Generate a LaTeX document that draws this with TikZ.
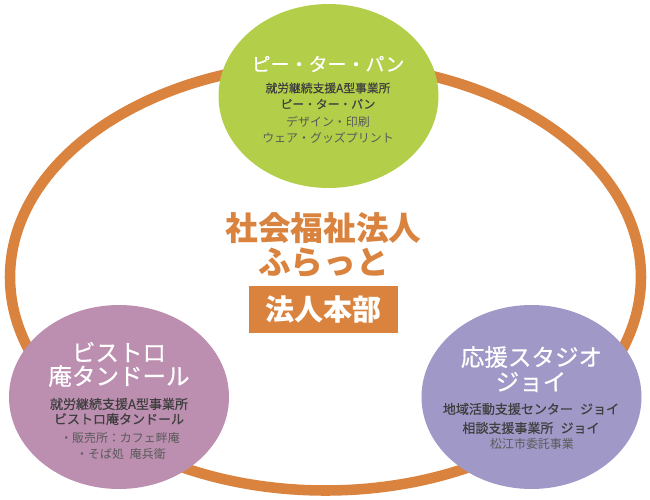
\documentclass[tikz,border=0pt]{standalone}
\usepackage{fontspec}
\setmainfont{Noto Sans CJK JP}
\newfontfamily\midfont[FakeBold=0.5]{Noto Sans CJK JP}
\usepackage{xcolor}
\definecolor{ringorange}{HTML}{D9833E}
\definecolor{pangreen}{HTML}{B3CE48}
\definecolor{bistroplum}{HTML}{BC8FB0}
\definecolor{joypurple}{HTML}{A098C7}
\definecolor{darktext}{HTML}{3F3F3F}
\definecolor{greytext}{HTML}{5A5A5A}
\tikzset{
  bigtitle/.style={text=white,font=\midfont\fontsize{13.4}{16}\selectfont},
  pantitle/.style={text=white,font=\midfont\fontsize{10.8}{13}\selectfont},
  headline/.style={text=ringorange,font=\bfseries\fontsize{18.6}{22}\selectfont},
  boldline/.style={text=darktext,font=\midfont\fontsize{7.4}{9}\selectfont},
  panbold/.style={text=darktext,font=\midfont\fontsize{6.7}{8}\selectfont},
  thinline/.style={text=greytext,font=\fontsize{6.8}{8}\selectfont},
  honbubox/.style={fill=ringorange,text=white,inner sep=0pt,minimum width=2.98cm,minimum height=0.94cm,font=\bfseries\fontsize{16.5}{19}\selectfont},
}

\begin{document}
\begin{tikzpicture}[x=0.02cm,y=-0.02cm]
\useasboundingbox (0,0) rectangle (650,500);
\draw [ringorange, line width=6pt] (325.5,277) ellipse (315.5 and 213.5);

\fill [pangreen] (328.5,96) ellipse (110 and 92);
\fill [bistroplum] (119,397) ellipse (110 and 92);
\fill [joypurple] (531.5,397) ellipse (110 and 92);

\node [pantitle] (pan) at (328,64) {ピー・ター・パン};
\node [panbold] (panjob) at (328,88) {就労継続支援A型事業所};
\node [panbold] (panname) at (328,104) {ピー・ター・パン};
\node [thinline] (pandesign) at (328,122) {デザイン・印刷};
\node [thinline] (panwear) at (328,138) {ウェア・グッズプリント};

\node [headline] (hojin) at (323.5,228) {社会福祉法人};
\node [headline] (furatto) at (323.5,263) {ふらっと};
\node [honbubox] (honbu) at (323.5,309.5) {法人本部};

\node [bigtitle] (bistro) at (119,352) {ビストロ};
\node [bigtitle] (tandoor) at (119,376) {庵タンドール};
\node [boldline] (bistrojob) at (119,404) {就労継続支援A型事業所};
\node [boldline] (bistroname) at (119,419) {ビストロ庵タンドール};
\node [thinline] (bistroshop) at (120,438) {・販売所\char"FF1Aカフェ畔庵};
\node [thinline] (bistrosoba) at (121,454) {・そば処\hspace{.5em}庵兵衛};

\node [bigtitle] (joy) at (531.5,357) {応援スタジオ};
\node [bigtitle] (joyname) at (531,382) {ジョイ};
\node [boldline] (joycenter) at (531,409) {地域活動支援センター\hspace{.55em}ジョイ};
\node [boldline] (joysoudan) at (531,428) {相談支援事業所\hspace{.55em}ジョイ};
\node [thinline] (joycity) at (532,444) {松江市委託事業};
\end{tikzpicture}
\end{document}
